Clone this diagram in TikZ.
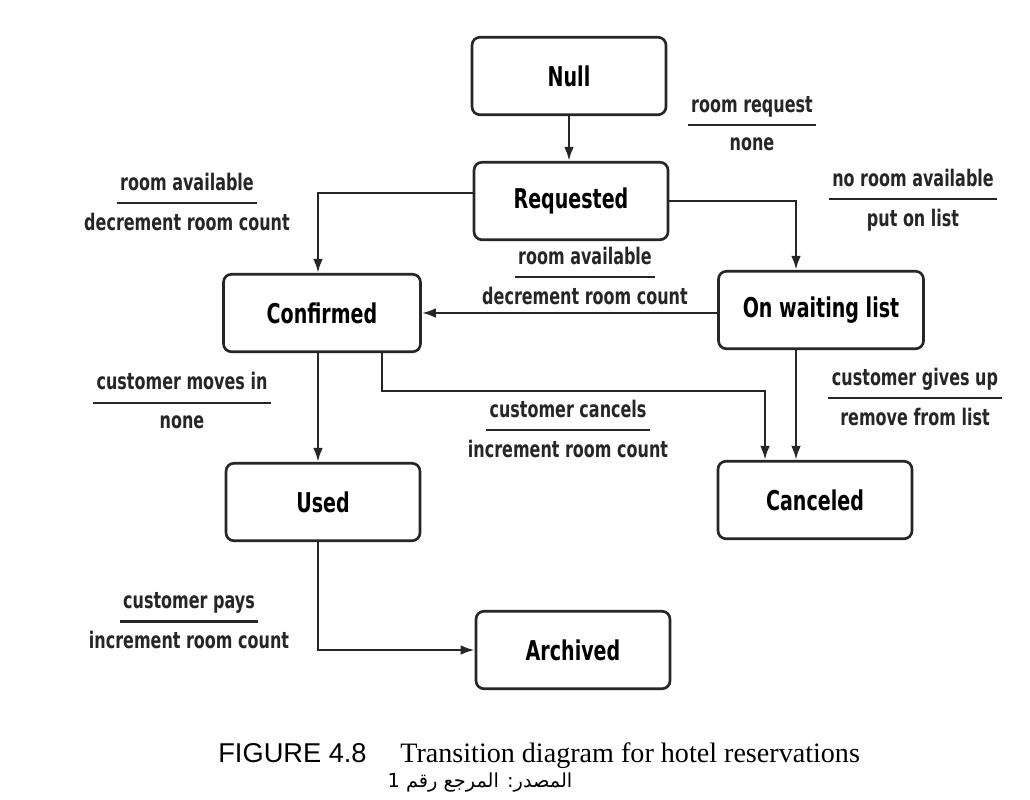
\documentclass[tikz,border=0pt]{standalone}
\usepackage{fontspec}
\usetikzlibrary{arrows.meta,calc}
\TeXXeTstate=1
\setmainfont{DejaVu Sans}
\newfontfamily\diafont[FakeStretch=0.7]{DejaVu Sans Bold}
\newfontfamily\capsans{Liberation Sans}
\newfontfamily\capserif{Liberation Serif}
\newfontfamily\arabicfont[Script=Arabic]{DejaVu Sans}
\newsavebox\lblbox
\newcommand\translbl[2]{\sbox\lblbox{#1}\begin{tabular}{@{}c@{}}\usebox\lblbox\\[-2pt]\rule[3pt]{\dimexpr\wd\lblbox+4pt\relax}{1.4pt}\\[-2pt]#2\end{tabular}}
\tikzset{
  state/.style={draw=black!85, line width=1.5pt, rounded corners=4.5pt,
    minimum width=3.88cm, minimum height=1.55cm, inner sep=0pt,
    font=\diafont\fontsize{15.5}{19}\selectfont},
  lbl/.style={inner sep=0pt, font=\diafont\fontsize{13}{13}\selectfont, text=black!85},
  conn/.style={draw=black!85, line width=1.4pt, -{Latex[length=8pt,width=5.5pt]}},
}
\begin{document}
\begin{tikzpicture}[x=0.02cm, y=-0.02cm]
\useasboundingbox[fill=white] (0,0) rectangle (1030,799);
% states
\node[state] (null) at (569,76) {Null};
\node[state] (req) at (571,201) {Requested};
\node[state, minimum width=3.94cm] (conf) at (322,313) {Confirmed};
\node[state, minimum width=4.1cm] (wait) at (821,310) {On waiting list};
\node[state] (used) at (323,502) {Used};
\node[state] (canc) at (815,500) {Canceled};
\node[state] (arch) at (573,650) {Archived};
% connectors
\draw[conn] (null.south) -- (null.south |- req.north);
\draw[conn] ([yshift=0.16cm]req.west) -| ([xshift=-0.08cm]conf.north);
\draw[conn] (req.east) -| ([xshift=-0.5cm]wait.north);
\draw[conn] ([yshift=-0.06cm]wait.west) -- ([yshift=-0.06cm]wait.west -| conf.east);
\draw[conn] ([xshift=-0.08cm]conf.south) -- ([xshift=-0.08cm]conf.south |- used.north);
\coordinate (cturn) at ($(conf.south)+(60,38)$);
\draw[conn] (conf.south -| cturn) -- (cturn) -| ([xshift=-1cm]canc.north);
\draw[conn] ([xshift=-0.5cm]wait.south) -- ([xshift=-0.5cm]wait.south |- canc.north);
\draw[conn] ([xshift=-0.1cm]used.south) |- (arch.west);
% transition labels
\node[lbl] (l1) at (752,127) {\translbl{room request}{none}};
\node[lbl] (l2) at (913,201) {\translbl{no room available}{put on list}};
\node[lbl] (l3) at (187,205) {\translbl{room available}{decrement room count}};
\node[lbl] (l4) at (585,279) {\translbl{room available}{decrement room count}};
\node[lbl] (l5) at (182,404) {\translbl{customer moves in}{none}};
\node[lbl] (l6) at (568,432) {\translbl{customer cancels}{increment room count}};
\node[lbl] (l7) at (915,400) {\translbl{customer gives up}{remove from list}};
\node[lbl] (l8) at (189,624) {\translbl{customer pays}{increment room count}};
% caption
\node[anchor=base west, inner sep=0pt, font=\capsans\fontsize{15.5}{18}\selectfont] (fig) at (218,762) {FIGURE 4.8};
\node[anchor=base west, inner sep=0pt, font=\capserif\fontsize{16}{18}\selectfont] (cap) at (400,762) {Transition diagram for hotel reservations};
\node[inner sep=0pt, font=\arabicfont\fontsize{11}{13}\selectfont] (src) at (480,782) {\beginR المصدر: المرجع رقم 1\endR};
\end{tikzpicture}
\end{document}
